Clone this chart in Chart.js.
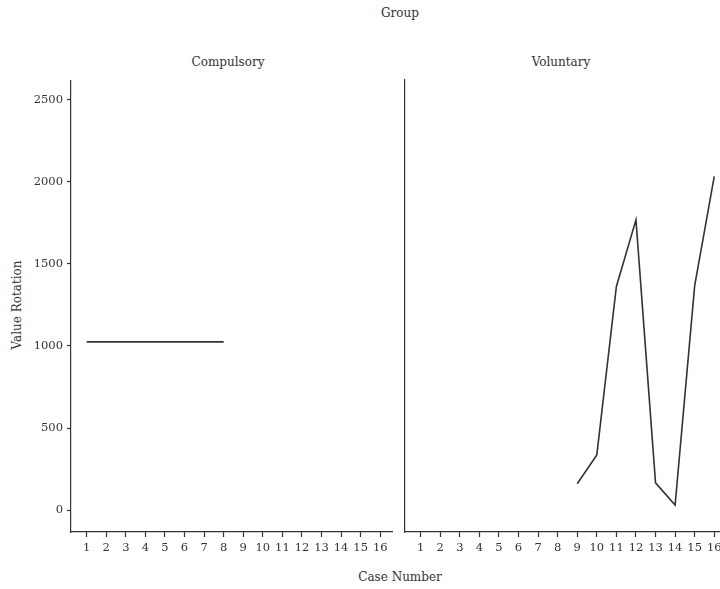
<!DOCTYPE html>
<html>
<head>
<meta charset="utf-8">
<script src="https://cdn.jsdelivr.net/npm/chart.js@4/dist/chart.umd.min.js"></script>
<style>
  body { margin: 0; width: 720px; height: 589px; overflow: hidden; background: #fff; position: relative;
         font-family: "DejaVu Serif", serif; color: #333; }
  .lbl { position: absolute; font-size: 12px; white-space: nowrap; transform: translateX(-50%); }
  .box { position: absolute; }
  #ytitle { position: absolute; left: 17px; top: 305px; font-size: 12px; white-space: nowrap;
            transform: translate(-50%, -50%) rotate(-90deg); }
</style>
</head>
<body>
<div class="lbl" style="left:400px; top:6px">Group</div>
<div class="lbl" style="left:228px; top:55px">Compulsory</div>
<div class="lbl" style="left:561px; top:55px">Voluntary</div>
<div class="lbl" style="left:400px; top:570px">Case Number</div>
<div id="ytitle">Value Rotation</div>
<div class="box" style="left:0; top:70px; width:400px; height:500px"><canvas id="left"></canvas></div>
<div class="box" style="left:395px; top:70px; width:335px; height:500px"><canvas id="right"></canvas></div>
<script>
// Case numbers (x axis tick labels)
const caseTicks = [1, 2, 3, 4, 5, 6, 7, 8, 9, 10, 11, 12, 13, 14, 15, 16];
const yTicks = [0, 500, 1000, 1500, 2000, 2500];

// Compulsory group: cases 1-8
const compulsoryCases = [1, 2, 3, 4, 5, 6, 7, 8];
const compulsoryValues = [1025, 1025, 1025, 1025, 1025, 1025, 1025, 1025];

// Voluntary group: cases 9-16
const voluntaryCases = [9, 10, 11, 12, 13, 14, 15, 16];
const voluntaryValues = [160, 335, 1360, 1765, 165, 30, 1365, 2030];

const ink = '#333';
const font = { family: '"DejaVu Serif", serif', size: 11.5 };

function makeChart(id, cases, values, showY, yWidth, padRight) {
  const ctx = document.getElementById(id).getContext('2d');
  return new Chart(ctx, {
    type: 'line',
    data: {
      datasets: [{
        data: cases.map((c, i) => ({ x: c, y: values[i] })),
        borderColor: '#333',
        borderWidth: 1.6,
        pointRadius: 0,
        fill: false,
      }]
    },
    options: {
      responsive: true,
      maintainAspectRatio: false,
      animation: false,
      layout: { padding: { top: 10, right: padRight, left: 0, bottom: 0 } },
      plugins: { legend: { display: false }, tooltip: { enabled: false } },
      scales: {
        x: {
          type: 'linear',
          min: 0.2,
          max: 16.6,
          afterBuildTicks: s => { s.ticks = caseTicks.map(v => ({ value: v })); },
          afterFit: s => { s.height = 38; },
          border: { color: ink, width: 1.2 },
          grid: { drawOnChartArea: false, tickLength: 5, color: ink, tickWidth: 1.2 },
          ticks: { color: ink, font: font, padding: 4, maxRotation: 0, autoSkip: false,
                   callback: v => String(v) }
        },
        y: {
          min: -134,
          max: 2616,
          afterBuildTicks: s => { s.ticks = yTicks.map(v => ({ value: v })); },
          afterFit: s => { s.width = yWidth; },
          border: { color: ink, width: 1.2 },
          grid: { drawOnChartArea: false, drawTicks: showY, tickLength: 4, color: ink, tickWidth: 1.2 },
          ticks: { display: showY, color: ink, font: font, padding: 4, callback: v => String(v) }
        }
      }
    }
  });
}

makeChart('left', compulsoryCases, compulsoryValues, true, 71, 8);
makeChart('right', voluntaryCases, voluntaryValues, false, 10, 4);
</script>
</body>
</html>
